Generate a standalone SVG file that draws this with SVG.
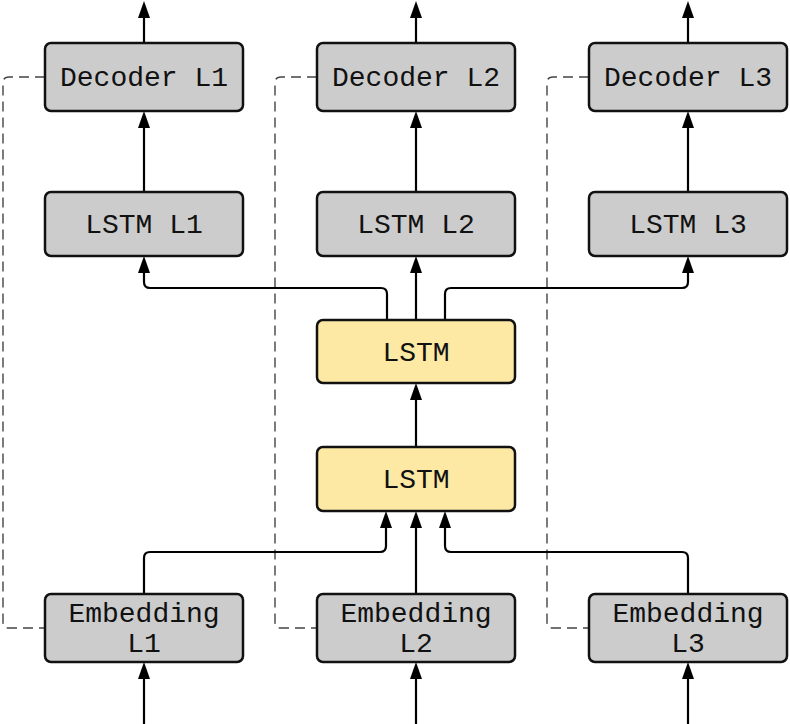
<svg xmlns="http://www.w3.org/2000/svg" width="790" height="724" viewBox="0 0 790 724">
<style>
.g rect{fill:#cccccc;stroke:#111;stroke-width:2.5}
.y rect{fill:#fde9a4;stroke:#111;stroke-width:2.5}
text{font-family:"Liberation Mono","DejaVu Sans Mono",monospace;font-size:28px;fill:#111;text-anchor:middle}
.c path{fill:none;stroke:#000;stroke-width:2.2}
.c path.d{stroke:#444;stroke-width:1.4;stroke-dasharray:10 6}
</style>
<g class="c">
<path class="d" d="M45 77 H9 Q3 77 3 83 V622 Q3 628 9 628 H45"/>
<path class="d" d="M317 77 H281 Q275 77 275 83 V622 Q275 628 281 628 H317"/>
<path class="d" d="M589 77 H553 Q547 77 547 83 V622 Q547 628 553 628 H589"/>
<path d="M144 43 V18"/><path d="M416 43 V18"/><path d="M688 43 V18"/>
<path d="M144 192 V127"/><path d="M416 192 V127"/><path d="M688 192 V127"/>
<path d="M387 320 V294 Q387 288 381 288 H150 Q144 288 144 282 V272"/>
<path d="M416 320 V272"/>
<path d="M445 320 V294 Q445 288 451 288 H682 Q688 288 688 282 V272"/>
<path d="M416 447 V399"/>
<path d="M144 594 V558 Q144 552 150 552 H380 Q386 552 386 546 V527"/>
<path d="M416 594 V527"/>
<path d="M688 594 V558 Q688 552 682 552 H451 Q445 552 445 546 V527"/>
<path d="M144 724 V678"/><path d="M416 724 V678"/><path d="M688 724 V678"/>
</g>
<g fill="#000">
<path d="M144 1 L150 18 L138 18 Z"/><path d="M416 1 L422 18 L410 18 Z"/><path d="M688 1 L694 18 L682 18 Z"/>
<path d="M144 111 L150 128 L138 128 Z"/><path d="M416 111 L422 128 L410 128 Z"/><path d="M688 111 L694 128 L682 128 Z"/>
<path d="M144 256 L150 273 L138 273 Z"/><path d="M416 256 L422 273 L410 273 Z"/><path d="M688 256 L694 273 L682 273 Z"/>
<path d="M416 383 L422 400 L410 400 Z"/>
<path d="M386 511 L392 528 L380 528 Z"/><path d="M416 511 L422 528 L410 528 Z"/><path d="M445 511 L451 528 L439 528 Z"/>
<path d="M144 662 L150 679 L138 679 Z"/><path d="M416 662 L422 679 L410 679 Z"/><path d="M688 662 L694 679 L682 679 Z"/>
</g>
<g id="dec1" class="g"><rect x="45" y="43" width="198" height="68" rx="6"/><text x="144" y="86">Decoder L1</text></g>
<g id="dec2" class="g"><rect x="317" y="43" width="198" height="68" rx="6"/><text x="416" y="86">Decoder L2</text></g>
<g id="dec3" class="g"><rect x="589" y="43" width="198" height="68" rx="6"/><text x="688" y="86">Decoder L3</text></g>
<g id="lstm1" class="g"><rect x="45" y="192" width="198" height="64" rx="6"/><text x="144" y="233">LSTM L1</text></g>
<g id="lstm2" class="g"><rect x="317" y="192" width="198" height="64" rx="6"/><text x="416" y="233">LSTM L2</text></g>
<g id="lstm3" class="g"><rect x="589" y="192" width="198" height="64" rx="6"/><text x="688" y="233">LSTM L3</text></g>
<g id="lstmTop" class="y"><rect x="317" y="320" width="198" height="63" rx="6"/><text x="416" y="361">LSTM</text></g>
<g id="lstmBottom" class="y"><rect x="317" y="447" width="198" height="64" rx="6"/><text x="416" y="488">LSTM</text></g>
<g id="emb1" class="g"><rect x="45" y="594" width="198" height="68" rx="6"/><text x="144" y="622">Embedding</text><text x="144" y="652">L1</text></g>
<g id="emb2" class="g"><rect x="317" y="594" width="198" height="68" rx="6"/><text x="416" y="622">Embedding</text><text x="416" y="652">L2</text></g>
<g id="emb3" class="g"><rect x="589" y="594" width="198" height="68" rx="6"/><text x="688" y="622">Embedding</text><text x="688" y="652">L3</text></g>
</svg>
